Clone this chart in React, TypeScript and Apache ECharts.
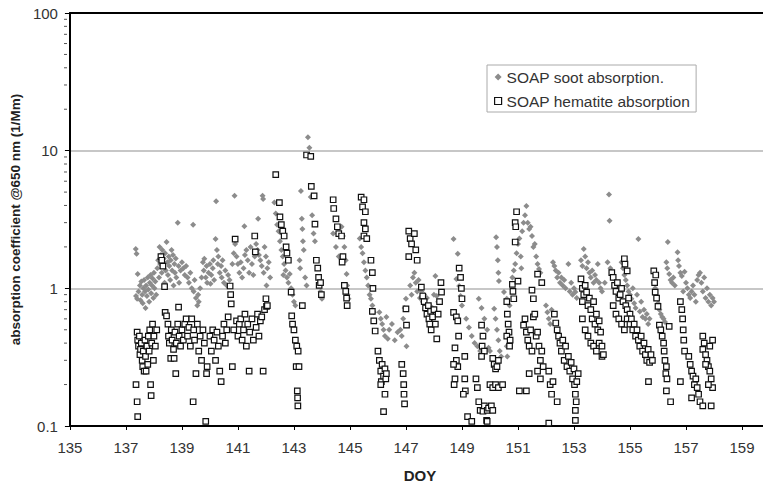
import React, { useEffect, useRef } from "react";
import * as echarts from "echarts";

const sootName = "SOAP soot absorption.";
const hematiteName = "SOAP hematite absorption";
const xAxisName = "DOY";
const yAxisName = "absorption coefficient @650 nm (1/Mm)";
const xMin = 135;
const xMax = 160;
const xStep = 2;
const yMin = 0.1;
const yMax = 100;
const yMinorValues = [0.2, 0.3, 0.4, 0.5, 0.6, 0.7, 0.8, 0.9, 2, 3, 4, 5, 6, 7, 8, 9, 20, 30, 40, 50, 60, 70, 80, 90];

// [DOY, absorption coefficient]
const soot: number[][] = [
  [137.35,1.93],[137.38,1.78],[137.42,1.27],[137.36,0.88],[137.4,0.84],[137.45,0.95],[137.5,1.05],[137.52,0.82],[137.55,1.12],[137.58,0.9],[137.6,0.78],[137.62,1.0],[137.65,1.15],[137.68,0.95],[137.7,0.72],[137.72,1.05],[137.75,0.88],[137.78,1.2],[137.8,0.98],[137.83,0.8],[137.85,1.1],[137.88,1.25],[137.9,0.92],[137.93,1.05],[137.95,1.18],[137.98,0.85],[138.0,1.3],[138.02,1.0],[138.05,1.12],[138.08,0.9],
  [138.12,1.4],[138.15,1.6],[138.18,1.2],[138.2,2.0],[138.22,1.5],[138.25,1.75],[138.28,1.3],[138.3,1.9],[138.33,1.45],[138.35,1.65],[138.38,1.1],[138.4,1.8],[138.42,1.35],[138.45,2.17],[138.48,1.55],[138.5,1.25],[138.53,1.7],[138.55,1.45],[138.58,1.15],[138.6,1.6],[138.63,1.9],[138.65,1.35],[138.68,1.75],[138.7,1.05],[138.73,1.5],[138.75,1.3],[138.78,1.65],[138.8,1.2],[138.85,3.0],[138.88,1.45],[138.9,1.1],[138.95,1.35],[139.0,1.55],
  [139.05,1.4],[139.1,1.25],[139.15,1.45],[139.2,1.2],[139.25,1.1],[139.3,1.3],[139.35,1.0],[139.4,2.9],[139.42,0.95],[139.45,1.15],[139.5,0.85],[139.55,0.75],[139.58,0.9],[139.6,0.8],[139.65,1.0],[139.7,1.2],
  [139.75,1.55],[139.78,1.35],[139.8,1.64],[139.85,1.2],[139.88,1.45],[139.9,1.1],[139.95,1.3],[140.0,1.5],[140.02,1.08],[140.05,1.25],[140.1,1.4],[140.12,1.6],[140.15,1.15],[140.2,2.28],[140.22,4.3],[140.25,1.9],[140.28,1.5],[140.3,1.7],[140.35,1.3],[140.4,1.45],[140.42,1.2],[140.45,1.6],[140.5,1.1],[140.55,1.35],[140.6,1.05],[140.65,1.25],[140.7,1.15],
  [140.8,1.5],[140.85,1.8],[140.88,4.7],[140.9,2.1],[140.95,1.7],[141.0,1.5],[141.05,1.3],[141.1,1.55],[141.15,1.2],[141.2,1.4],[141.23,2.83],[141.25,1.75],[141.3,1.9],[141.35,1.6],[141.4,1.3],[141.45,2.0],[141.5,1.5],[141.55,1.25],[141.6,1.7],
  [141.62,2.4],[141.65,2.1],[141.7,1.9],[141.72,3.2],[141.75,1.75],[141.8,1.6],[141.85,1.45],[141.88,4.7],[141.9,4.45],[141.92,1.3],[141.95,2.0],[142.0,1.7],[142.02,1.05],[142.05,1.4],[142.1,1.55],[142.15,1.2],
  [142.3,4.2],[142.35,3.5],[142.4,2.9],[142.45,2.6],[142.5,2.2],[142.55,1.9],[142.6,1.7],[142.62,1.25],[142.65,1.5],[142.7,1.35],[142.75,1.2],[142.8,1.1],[142.85,1.27],[142.9,1.0],[142.95,0.9],[143.0,0.8],[143.05,0.75],
  [143.2,1.6],[143.22,1.4],[143.25,5.1],[143.28,3.2],[143.3,2.7],[143.32,2.2],[143.35,1.9],[143.4,1.2],[143.45,1.05],[143.5,12.5],[143.55,10.5],[143.6,4.6],[143.65,3.4],[143.7,2.5],[143.75,2.2],[143.8,1.6],[143.85,1.4],[143.9,1.1],[143.95,0.95],[144.0,0.84],
  [144.4,2.5],[144.5,2.0],[144.6,1.7],[144.7,2.8],[144.75,2.4],[144.8,2.0],[144.85,1.6],[144.88,1.27],[144.9,1.05],[144.92,0.9],[144.95,0.84],
  [145.35,2.3],[145.4,2.0],[145.45,1.8],[145.5,1.55],[145.55,1.35],[145.6,1.2],[145.65,1.05],[145.7,0.9],[145.75,0.84],[145.8,0.75],[145.85,0.67],
  [146.05,0.67],[146.1,0.6],[146.15,0.55],[146.2,0.5],[146.25,0.45],[146.3,0.62],[146.35,0.43],[146.4,0.5],[146.5,0.55],[146.6,0.42],[146.7,0.48],[146.8,0.5],[146.85,0.45],[146.9,0.6],[146.95,0.72],[147.0,0.84],[147.02,0.38],
  [147.15,1.05],[147.2,0.9],[147.25,1.2],[147.3,1.3],[147.35,1.1],[147.4,0.95],[147.45,1.15],[147.5,0.85],[147.55,0.95],[147.6,0.8],[147.65,0.9],[147.7,0.7],[147.75,0.85],[147.8,0.65],[147.85,0.75],[147.9,0.6],[147.95,0.72],[148.0,0.9],[148.05,1.23],[148.1,0.88],[148.15,0.8],
  [148.7,2.28],[148.85,1.78],[148.8,1.17],[148.9,1.04],[148.95,0.88],[149.0,0.75],
  [149.15,0.6],[149.25,0.52],[149.35,0.45],[149.45,0.4],[149.55,0.38],[149.65,0.35],[149.6,0.84],[149.7,0.72],[149.8,0.6],[149.9,0.5],[149.95,0.37],[150.0,0.35],
  [150.15,0.71],[150.2,0.6],[150.25,0.5],[150.3,0.42],[150.35,0.35],[150.4,0.32],[150.22,2.35],[150.25,2.0],[150.28,1.6],[150.3,1.3],[150.32,1.13],[150.5,0.94],[150.6,0.84],[150.7,0.75],[150.6,0.38],[150.62,0.32],
  [150.8,1.2],[150.85,1.35],[150.9,1.5],[150.95,1.8],[151.0,2.1],[151.05,2.3],[151.1,1.7],[151.12,1.4],[151.15,2.6],[151.2,3.0],[151.25,3.4],[151.3,3.96],[151.35,3.0],[151.4,2.7],[151.45,2.8],[151.5,2.4],[151.55,2.0],[151.6,2.1],[151.65,1.7],[151.7,1.5],[151.75,1.38],[151.8,1.3],
  [152.0,0.75],[152.05,0.67],[152.1,0.6],[152.15,0.55],[152.2,0.7],[152.25,1.55],[152.3,1.45],[152.35,1.35],[152.4,1.2],[152.45,1.3],[152.5,1.1],[152.55,1.2],[152.6,1.05],[152.65,1.15],[152.7,1.0],[152.8,1.5],[152.85,0.95],[152.9,1.1],[152.95,0.9],[153.0,1.0],[153.05,0.94],[153.1,0.85],
  [153.25,1.6],[153.3,1.45],[153.35,1.93],[153.4,1.7],[153.45,1.4],[153.5,1.55],[153.55,1.3],[153.6,1.2],[153.65,1.35],[153.7,1.1],[153.75,1.25],[153.8,1.15],[153.85,1.5],[153.9,1.1],[153.95,1.0],
  [154.0,0.95],[154.1,1.1],[154.2,1.55],[154.25,4.8],[154.27,3.1],[154.3,1.4],[154.35,1.3],[154.4,1.2],[154.45,1.05],[154.5,0.94],[154.55,1.0],[154.7,1.55],[154.75,1.4],[154.8,1.25],[154.85,1.15],[154.9,1.05],[154.95,0.95],
  [155.0,0.9],[155.05,0.84],[155.1,1.0],[155.15,0.78],[155.2,0.72],[155.25,0.9],[155.3,2.28],[155.35,0.68],[155.4,0.8],[155.45,0.62],[155.5,0.7],[155.55,0.6],[155.6,0.65],[155.65,0.55],[155.7,0.6],[155.85,1.1],[155.9,1.0],[155.95,0.88],[156.0,0.78],
  [156.05,0.7],[156.1,0.65],[156.15,0.62],[156.2,0.6],[156.25,0.57],[156.3,1.55],[156.33,1.4],[156.35,2.17],[156.4,1.27],[156.45,1.15],[156.5,1.1],[156.55,1.2],[156.6,1.05],[156.7,1.83],[156.72,1.6],[156.75,1.45],[156.8,1.3],[156.85,1.23],[156.9,0.95],
  [156.95,1.32],[157.0,1.1],[157.05,1.0],[157.1,0.9],[157.15,0.85],[157.2,0.95],[157.25,1.05],[157.3,0.9],[157.35,0.8],[157.4,1.15],[157.45,1.25],[157.5,1.3],[157.55,1.1],[157.6,0.95],[157.65,1.2],[157.7,0.85],[157.75,1.0],[157.8,0.8],[157.85,0.9],[157.9,0.75],[157.95,0.85],[158.0,0.8]
];

const hematite: number[][] = [
  [137.36,0.2],[137.4,0.15],[137.42,0.117],[137.4,0.48],[137.42,0.42],[137.45,0.38],[137.48,0.45],[137.5,0.33],[137.52,0.36],[137.55,0.4],[137.58,0.3],[137.6,0.27],[137.62,0.35],[137.65,0.25],[137.68,0.42],[137.7,0.32],[137.72,0.25],[137.75,0.38],[137.78,0.28],[137.8,0.45],[137.83,0.35],[137.85,0.5],[137.88,0.2],[137.9,0.166],[137.92,0.4],[137.95,0.55],[137.98,0.3],[138.0,0.45],[138.05,0.38],[138.1,0.5],
  [138.25,1.7],[138.28,1.6],[138.32,1.45],[138.38,1.03],[138.4,0.67],[138.45,0.63],[138.5,0.55],[138.52,0.45],[138.55,0.4],[138.6,0.31],[138.62,0.5],[138.65,0.42],[138.7,0.36],[138.72,0.31],[138.75,0.48],[138.78,0.24],[138.8,0.4],[138.85,0.55],[138.88,0.73],[138.9,0.45],[138.95,0.38],[139.0,0.5],
  [139.05,0.42],[139.1,0.55],[139.15,0.6],[139.2,0.45],[139.25,0.52],[139.3,0.38],[139.35,0.6],[139.4,0.15],[139.42,0.5],[139.45,0.42],[139.5,0.24],[139.55,0.55],[139.6,0.35],[139.65,0.45],[139.7,0.3],[139.75,0.5],[139.8,0.4],[139.85,0.108],[139.88,0.24],[139.9,0.27],
  [140.0,0.45],[140.05,0.35],[140.1,0.5],[140.15,0.42],[140.2,0.3],[140.25,0.48],[140.3,0.38],[140.35,0.25],[140.4,0.21],[140.45,0.45],[140.5,0.55],[140.55,0.4],[140.6,0.5],[140.65,0.62],[140.72,1.04],[140.74,0.9],[140.76,0.77],[140.8,0.27],[140.85,0.5],[140.9,2.28],[140.95,0.58],
  [141.0,0.45],[141.05,0.55],[141.1,0.6],[141.15,0.42],[141.2,0.5],[141.25,0.65],[141.3,0.38],[141.35,0.55],[141.4,0.25],[141.42,0.48],[141.5,0.6],[141.55,0.42],[141.6,2.4],[141.62,1.84],[141.65,0.52],[141.7,0.65],[141.75,0.45],[141.8,0.58],[141.85,0.62],[141.9,0.25],[141.95,0.7],[142.0,0.84],[142.02,0.74],[142.05,0.75],
  [142.35,6.7],[142.48,4.2],[142.5,3.3],[142.55,2.9],[142.6,2.6],[142.65,2.4],[142.72,2.0],[142.75,1.8],[142.8,1.6],[142.9,0.94],[142.92,0.63],[142.95,0.55],[143.0,0.5],[143.05,0.42],[143.1,0.38],[143.15,0.35],[143.08,0.27],[143.18,0.27],[143.12,0.18],[143.13,0.16],[143.14,0.14],[143.3,0.75],
  [143.45,9.3],[143.6,9.1],[143.62,5.5],[143.72,4.7],[143.75,2.93],[143.8,1.6],[143.85,1.4],[143.88,1.2],[143.9,1.05],[143.95,1.1],[143.98,0.9],
  [144.4,4.4],[144.42,3.8],[144.5,3.2],[144.55,2.8],[144.6,2.5],[144.7,2.4],[144.75,1.7],[144.72,1.55],[144.8,1.05],[144.85,0.95],[144.88,0.85],[144.9,0.75],
  [145.4,4.6],[145.5,4.4],[145.45,3.9],[145.55,3.6],[145.5,3.0],[145.55,2.7],[145.5,2.4],[145.6,2.3],[145.75,1.6],[145.8,1.3],[145.82,1.0],[145.8,0.68],[145.85,0.58],[145.9,0.49],
  [146.0,0.35],[146.05,0.3],[146.1,0.25],[146.12,0.21],[146.15,0.28],[146.2,0.23],[146.25,0.26],[146.28,0.22],[146.3,0.24],[146.1,0.2],[146.25,0.17],[146.2,0.127],[146.85,0.28],[146.9,0.24],[146.92,0.2],[146.93,0.17],[146.95,0.145],
  [147.1,2.6],[147.15,2.3],[147.2,2.1],[147.3,2.5],[147.35,1.9],[147.1,1.7],[147.4,1.6],[147.0,0.71],[147.02,0.54],[147.55,1.02],[147.6,0.88],[147.65,0.8],[147.7,0.72],[147.75,0.65],[147.8,0.75],[147.82,0.6],[147.85,0.55],[147.88,0.68],[147.9,0.5],[147.95,0.62],[148.0,0.7],[148.05,0.55],[148.1,0.43],[148.15,0.65],[148.2,0.8],[148.25,1.1],[148.27,0.94],
  [148.7,0.67],[148.8,0.62],[148.85,0.58],[148.88,0.45],[148.9,1.4],[148.95,1.2],[148.98,1.0],[149.0,0.84],[148.75,0.37],[148.8,0.3],[148.85,0.27],[148.7,0.28],[148.75,0.22],[148.72,0.2],[149.1,0.22],[149.12,0.18],[149.05,0.17],[149.2,0.117],[149.35,0.108],[149.1,0.32],
  [149.7,0.54],[149.75,0.45],[149.72,0.38],[149.8,0.35],[149.7,0.32],[149.5,0.22],[149.55,0.19],[149.6,0.15],[149.65,0.13],[149.75,0.128],[149.8,0.14],[149.9,0.13],[149.95,0.135],[150.05,0.14],[150.1,0.13],[149.88,0.11],[149.9,0.108],[150.1,0.31],[150.15,0.28],[150.2,0.26],[150.25,0.27],[150.3,0.3],[150.0,0.2],[150.1,0.19],[150.2,0.2],[150.3,0.19],[150.45,0.2],
  [150.6,0.8],[150.62,0.65],[150.65,0.55],[150.68,0.48],[150.6,0.45],[150.7,0.38],[150.72,0.42],[150.8,1.07],[150.82,0.95],[150.85,0.84],[150.9,3.0],[150.92,2.8],[150.95,3.6],[150.9,2.17],[151.0,1.13],[151.05,0.18],
  [151.2,0.54],[151.25,0.6],[151.3,0.48],[151.35,0.42],[151.4,0.38],[151.45,0.5],[151.5,0.35],[151.55,0.62],[151.6,0.65],[151.65,0.45],[151.4,0.24],[151.5,0.97],[151.55,0.84],[151.7,1.27],[151.85,1.1],[151.7,0.48],[151.75,0.38],[151.8,0.3],[151.85,0.35],[151.9,0.27],[151.7,0.25],[151.8,0.22],[151.3,0.18],
  [152.1,0.25],[152.15,0.2],[152.2,0.17],[152.25,0.21],[152.4,0.15],[152.1,0.105],[152.3,0.65],[152.35,0.56],[152.4,0.5],[152.45,0.45],[152.5,0.4],[152.55,0.35],[152.6,0.42],[152.65,0.3],[152.7,0.38],[152.75,0.27],[152.8,0.32],[152.85,0.25],[152.9,0.29],[152.95,0.22],[153.0,0.26],[153.02,0.2],[153.05,0.17],[153.08,0.15],[153.05,0.13],[153.05,0.11],[153.1,0.21],[153.15,0.24],
  [153.25,1.17],[153.3,1.0],[153.35,0.9],[153.3,0.8],[153.4,1.05],[153.45,0.94],[153.5,0.75],[153.55,0.85],[153.6,0.7],[153.65,0.6],[153.7,0.8],[153.75,0.55],[153.8,0.65],[153.85,0.5],[153.9,0.58],[153.95,0.48],[153.3,0.6],[153.4,0.5],[153.5,0.45],[153.6,0.4],[153.7,0.38],[153.8,0.35],[153.9,0.4],[154.0,0.32],[154.05,0.33],[154.0,0.38],
  [154.35,1.3],[154.4,1.2],[154.45,1.05],[154.5,0.95],[154.55,1.1],[154.6,0.85],[154.65,0.9],[154.7,1.0],[154.75,0.8],[154.8,1.64],[154.82,1.5],[154.9,1.34],[154.85,0.75],[154.9,0.7],[154.95,0.85],[155.0,0.65],[154.4,0.75],[154.5,0.65],[154.6,0.6],[154.7,0.55],[154.8,0.5],[154.9,0.6],[155.0,0.55],
  [155.05,0.6],[155.1,0.5],[155.15,0.55],[155.2,0.45],[155.25,0.5],[155.3,0.42],[155.35,0.38],[155.4,0.45],[155.45,0.35],[155.5,0.4],[155.55,0.33],[155.6,0.3],[155.65,0.36],[155.7,0.29],[155.75,0.33],[155.8,0.3],[155.66,0.21],[155.85,1.34],[155.92,1.25],[155.88,1.1],[155.9,0.94],[155.95,0.85],[156.0,0.74],[156.05,0.54],
  [156.1,0.5],[156.15,0.45],[156.2,0.4],[156.22,0.35],[156.25,0.3],[156.3,0.27],[156.28,0.24],[156.32,0.22],[156.3,0.18],[156.45,0.15],[156.4,0.53],[156.8,0.8],[156.85,0.7],[156.88,0.6],[156.9,0.5],[156.92,0.42],[156.95,0.35],[156.8,0.21],
  [157.1,0.32],[157.15,0.28],[157.2,0.25],[157.25,0.23],[157.3,0.2],[157.35,0.22],[157.4,0.19],[157.45,0.17],[157.5,0.15],[157.2,0.16],[157.6,0.45],[157.65,0.4],[157.6,0.36],[157.7,0.33],[157.75,0.3],[157.8,0.27],[157.85,0.25],[157.9,0.22],[157.95,0.19],[157.8,0.2],[157.6,0.14],[157.9,0.14],[157.7,0.28],[157.85,0.38],[157.95,0.42]
];

const FONT = "'Liberation Sans', Arial, sans-serif";
const GRID_LEFT = 67;

export default function App() {
  const ref = useRef<HTMLDivElement>(null);
  useEffect(() => {
    if (!ref.current) return;
    const chart = echarts.init(ref.current, undefined, { renderer: "svg" });
    chart.setOption({
      animation: false,
      backgroundColor: "#fff",
      grid: { left: GRID_LEFT, right: 1, top: 13, bottom: 60 },
      legend: {
        orient: "vertical",
        left: 487,
        top: 65,
        padding: [4, 6, 3, 7],
        itemGap: 8,
        itemWidth: 7,
        itemHeight: 7,
        borderColor: "#aaa",
        borderWidth: 1,
        backgroundColor: "#fff",
        textStyle: { fontFamily: FONT, fontSize: 15.5, color: "#333" },
        data: [
          { name: sootName, icon: "diamond", itemStyle: { color: "#8c8c8c", borderWidth: 0 } },
          { name: hematiteName, icon: "rect", itemStyle: { color: "#fff", borderColor: "#111", borderWidth: 1.2 } },
        ],
      },
      xAxis: [
        {
          type: "value",
          min: xMin,
          max: xMax,
          interval: xStep,
          name: xAxisName,
          nameLocation: "middle",
          nameGap: 42,
          nameTextStyle: { fontFamily: FONT, fontSize: 15, fontWeight: "bold", color: "#222" },
          axisLine: { show: true, onZero: false, lineStyle: { color: "#000", width: 2 } },
          axisTick: { show: true, length: 4, lineStyle: { color: "#000", width: 1 } },
          axisLabel: { fontFamily: FONT, fontSize: 15, color: "#333", margin: 14, showMaxLabel: false },
          splitLine: { show: false },
        },
        {
          type: "value",
          position: "top",
          min: xMin,
          max: xMax,
          axisLine: { show: true, onZero: false, lineStyle: { color: "#000", width: 2 } },
          axisTick: { show: false },
          axisLabel: { show: false },
          splitLine: { show: false },
        },
      ],
      yAxis: {
        type: "log",
        logBase: 10,
        min: yMin,
        max: yMax,
        name: yAxisName,
        nameLocation: "middle",
        nameGap: 45,
        nameRotate: 90,
        nameTextStyle: { fontFamily: FONT, fontSize: 13.5, fontWeight: "bold", color: "#222" },
        axisLine: { show: true, onZero: false, lineStyle: { color: "#000", width: 2 } },
        axisTick: { show: true, length: 5, lineStyle: { color: "#000", width: 1 } },
        axisLabel: {
          fontFamily: FONT,
          fontSize: 15,
          color: "#333",
          margin: 12,
          formatter: (v: number) => (v < 1 ? v.toFixed(1) : String(Math.round(v))),
        },
        splitLine: { show: true, lineStyle: { color: "#b4b4b4", width: 1.5 } },
      },
      series: [
        {
          name: sootName,
          type: "scatter",
          symbol: "diamond",
          symbolSize: 6,
          itemStyle: { color: "#8c8c8c", opacity: 1 },
          data: soot,
          z: 2,
        },
        {
          name: hematiteName,
          type: "scatter",
          symbol: "rect",
          symbolSize: 5.5,
          itemStyle: { color: "#fff", borderColor: "#111", borderWidth: 1.2, opacity: 1 },
          data: hematite,
          z: 3,
        },
      ],
    });
    const minorTicks = yMinorValues.map((v) => {
      const y = chart.convertToPixel({ yAxisIndex: 0 }, v) as number;
      return {
        type: "line",
        shape: { x1: GRID_LEFT - 3, y1: y, x2: GRID_LEFT, y2: y },
        style: { stroke: "#555", lineWidth: 1 },
        silent: true,
      };
    });
    chart.setOption({ graphic: minorTicks });
    return () => chart.dispose();
  }, []);
  return (
    <div style={{ position: "fixed", left: 0, top: 0, width: 763, height: 488, overflow: "hidden", background: "#fff" }}>
      <div ref={ref} style={{ width: 771, height: 488 }} />
    </div>
  );
}
